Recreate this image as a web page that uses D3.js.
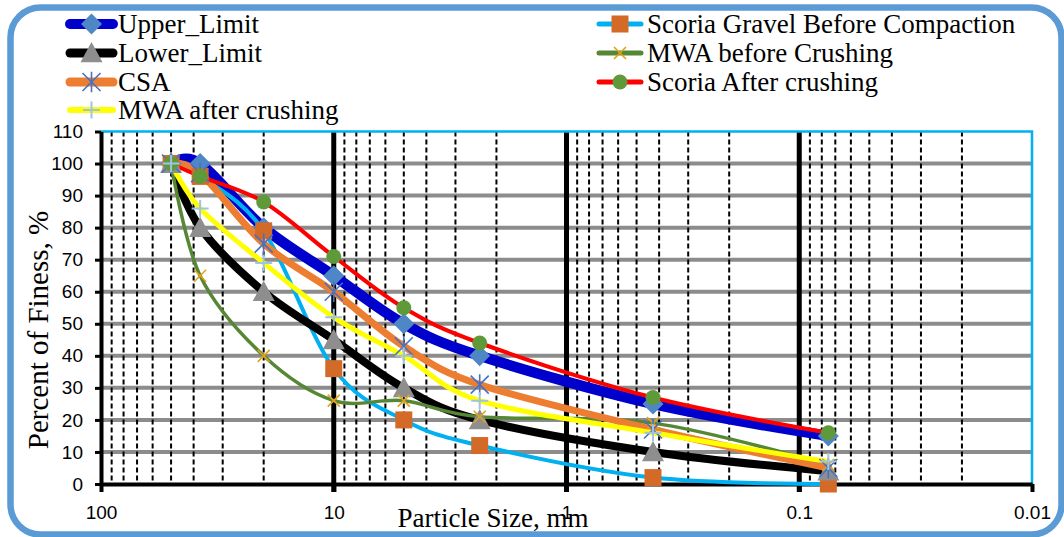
<!DOCTYPE html>
<html>
<head>
<meta charset="utf-8">
<script src="https://cdn.jsdelivr.net/npm/d3@7"></script>
<style>
  html, body { margin: 0; padding: 0; background: #ffffff; }
  svg { display: block; }
</style>
</head>
<body>
<svg id="chart" width="1064" height="537"></svg>
<script>
// Sieve sizes (mm) and percent passing for each gradation curve
const sieveSizes = [50, 37.5, 20, 10, 5, 2.36, 0.425, 0.075];
const upperLimit = [100, 100, 80, 65, 50, 40, 25, 15];
const lowerLimit = [100, 80, 60, 45, 30, 20, 10, 4];
const csa = [100, 97, 75, 60, 43, 31, 17, 5];
const mwaAfterCrushing = [100, 86, 69, 52, 40, 26, 16, 7];
const scoriaGravelBeforeCompaction = [100, 96, 79, 36, 20, 12, 2, 0];
const mwaBeforeCrushing = [100, 65, 40, 26, 26, 21, 19, 6];
const scoriaAfterCrushing = [100, 96, 88, 71, 55, 44, 27, 16];

const seriesNames = ["Upper_Limit", "Scoria Gravel Before Compaction", "Lower_Limit",
  "MWA before Crushing", "CSA", "Scoria After crushing", "MWA after crushing"];

const yTickValues = [0, 10, 20, 30, 40, 50, 60, 70, 80, 90, 100, 110];
const xTickValues = [100, 10, 1, 0.1, 0.01];
const xTickLabels = ["100", "10", "1", "0.1", "0.01"];

// ---- styles ----
const styles = {
  "Upper_Limit": { color: "#0000CC", width: 10.5, marker: "diamond", fill: "#4F86C6", legendWidth: 10 },
  "Scoria Gravel Before Compaction": { color: "#00B0F0", width: 4, marker: "square", fill: "#D46A27", legendWidth: 5 },
  "Lower_Limit": { color: "#000000", width: 8, marker: "triangle", fill: "#8E8E8E", legendWidth: 9 },
  "MWA before Crushing": { color: "#568735", width: 3.5, marker: "x", fill: "#E3A21A", legendWidth: 5 },
  "CSA": { color: "#ED7D31", width: 7, marker: "star", fill: "#4472C4", legendWidth: 9 },
  "Scoria After crushing": { color: "#FF0000", width: 4, marker: "circle", fill: "#5E9A3A", legendWidth: 5 },
  "MWA after crushing": { color: "#FFFF00", width: 5, marker: "plus", fill: "#9DC3E6", legendWidth: 6 }
};

const seriesValues = {
  "Upper_Limit": upperLimit,
  "Scoria Gravel Before Compaction": scoriaGravelBeforeCompaction,
  "Lower_Limit": lowerLimit,
  "MWA before Crushing": mwaBeforeCrushing,
  "CSA": csa,
  "Scoria After crushing": scoriaAfterCrushing,
  "MWA after crushing": mwaAfterCrushing
};

const svg = d3.select("#chart");
const plot = { left: 101, right: 1032, top: 131.5, bottom: 484 };

const x = d3.scaleLog().domain([100, 0.01]).range([plot.left, plot.right]);
const y = d3.scaleLinear().domain([0, 110]).range([plot.bottom, plot.top]);

// outer rounded frame
svg.append("rect")
  .attr("x", 10.5).attr("y", 7.5)
  .attr("width", 1051).attr("height", 527)
  .attr("rx", 30).attr("ry", 30)
  .attr("fill", "#ffffff")
  .attr("stroke", "#5B9BD5").attr("stroke-width", 6.5);

const grid = svg.append("g");

// horizontal gridlines
grid.selectAll("line.h")
  .data(yTickValues.filter(v => v > 0 && v < 110))
  .join("line")
  .attr("x1", plot.left).attr("x2", plot.right)
  .attr("y1", d => y(d)).attr("y2", d => y(d))
  .attr("stroke", "#8C8C8C").attr("stroke-width", 4);

// minor (dashed) and major (solid) vertical gridlines
const minorVals = [];
[10, 1, 0.1, 0.01].forEach(dec => {
  for (let k = 2; k <= 9; k++) minorVals.push(dec * k);
});
grid.selectAll("line.minor")
  .data(minorVals)
  .join("line")
  .attr("x1", d => x(d)).attr("x2", d => x(d))
  .attr("y1", plot.top).attr("y2", plot.bottom)
  .attr("stroke", "#000").attr("stroke-width", 2)
  .attr("stroke-dasharray", "5,3");

grid.selectAll("line.major")
  .data([10, 1, 0.1])
  .join("line")
  .attr("x1", d => x(d)).attr("x2", d => x(d))
  .attr("y1", plot.top).attr("y2", plot.bottom + 8)
  .attr("stroke", "#000").attr("stroke-width", 5);

// plot border top/right
svg.append("path")
  .attr("d", `M${plot.left},${plot.top}H${plot.right}V${plot.bottom}`)
  .attr("fill", "none").attr("stroke", "#00B0F0").attr("stroke-width", 2.5);

// axes
const yAxis = d3.axisLeft(y).tickValues(yTickValues).tickSize(6).tickSizeOuter(0).tickPadding(12);
const gy = svg.append("g").attr("transform", `translate(${plot.left},0)`).call(yAxis);
gy.select(".domain").attr("stroke", "#000").attr("stroke-width", 4);
gy.selectAll(".tick line").attr("stroke", "#000").attr("stroke-width", 3);
gy.selectAll(".tick text")
  .attr("font-family", "'Liberation Sans', Arial, sans-serif")
  .attr("font-size", 19).attr("fill", "#000");

const xAxis = d3.axisBottom(x).tickValues(xTickValues)
  .tickFormat((d, i) => xTickLabels[i]).tickSize(8).tickSizeOuter(0).tickPadding(14);
const gx = svg.append("g").attr("transform", `translate(0,${plot.bottom})`).call(xAxis);
gx.select(".domain").attr("stroke", "#000").attr("stroke-width", 4);
gx.selectAll(".tick line").attr("stroke", "#000").attr("stroke-width", 4);
gx.selectAll(".tick text")
  .attr("font-family", "'Liberation Sans', Arial, sans-serif")
  .attr("font-size", 19).attr("fill", "#000");

// axis titles
svg.append("text")
  .attr("x", 493).attr("y", 527)
  .attr("text-anchor", "middle")
  .attr("font-family", "'Liberation Serif', 'Times New Roman', serif")
  .attr("font-size", 27)
  .text("Particle Size, mm");

svg.append("text")
  .attr("transform", "translate(48,330) rotate(-90)")
  .attr("text-anchor", "middle")
  .attr("font-family", "'Liberation Serif', 'Times New Roman', serif")
  .attr("font-size", 29)
  .text("Percent of Finess, %");

// marker drawing
function drawMarker(g, type, fill, cx, cy) {
  if (type === "diamond") {
    const r = 10.5;
    g.append("path").attr("d", `M${cx},${cy - r}L${cx + r},${cy}L${cx},${cy + r}L${cx - r},${cy}Z`).attr("fill", fill);
  } else if (type === "square") {
    const r = 8.5;
    g.append("rect").attr("x", cx - r).attr("y", cy - r).attr("width", 2 * r).attr("height", 2 * r).attr("fill", fill);
  } else if (type === "triangle") {
    const r = 11;
    g.append("path").attr("d", `M${cx},${cy - r}L${cx + r},${cy + r * 0.85}L${cx - r},${cy + r * 0.85}Z`).attr("fill", fill);
  } else if (type === "circle") {
    g.append("circle").attr("cx", cx).attr("cy", cy).attr("r", 7.5).attr("fill", fill);
  } else if (type === "x") {
    const r = 6;
    g.append("path").attr("d", `M${cx - r},${cy - r}L${cx + r},${cy + r}M${cx - r},${cy + r}L${cx + r},${cy - r}`)
      .attr("stroke", fill).attr("stroke-width", 1.6).attr("fill", "none");
  } else if (type === "star") {
    const r = 9;
    g.append("path").attr("d", `M${cx - r},${cy - r}L${cx + r},${cy + r}M${cx - r},${cy + r}L${cx + r},${cy - r}M${cx},${cy - r * 1.15}L${cx},${cy + r * 1.15}`)
      .attr("stroke", fill).attr("stroke-width", 1.6).attr("fill", "none");
  } else if (type === "plus") {
    const r = 8.5;
    g.append("path").attr("d", `M${cx - r},${cy}L${cx + r},${cy}M${cx},${cy - r}L${cx},${cy + r}`)
      .attr("stroke", fill).attr("stroke-width", 2).attr("fill", "none");
  }
}

const line = d3.line()
  .x(d => x(d.size))
  .y(d => y(d.value))
  .curve(d3.curveCatmullRom.alpha(0));

const seriesData = seriesNames.map(name => ({
  name,
  points: sieveSizes.map((s, i) => ({ size: s, value: seriesValues[name][i] }))
}));

// lines first, then markers
const linesG = svg.append("g");
seriesData.forEach(sd => {
  const st = styles[sd.name];
  linesG.append("path")
    .datum(sd.points)
    .attr("d", line)
    .attr("fill", "none")
    .attr("stroke", st.color)
    .attr("stroke-width", st.width)
    .attr("stroke-linejoin", "round")
    .attr("stroke-linecap", "round");
});
const markersG = svg.append("g");
seriesData.forEach(sd => {
  const st = styles[sd.name];
  sd.points.forEach(p => drawMarker(markersG, st.marker, st.fill, x(p.size), y(p.value)));
});

// legend
const legendLeft = ["Upper_Limit", "Lower_Limit", "CSA", "MWA after crushing"];
const legendRight = ["Scoria Gravel Before Compaction", "MWA before Crushing", "Scoria After crushing"];
const legendBaselines = [33, 62, 91, 119];

function drawLegendColumn(names, x0, x1, tx) {
  const g = svg.append("g");
  names.forEach((name, i) => {
    const st = styles[name];
    const cy = legendBaselines[i] - 9;
    g.append("line")
      .attr("x1", x0).attr("x2", x1).attr("y1", cy).attr("y2", cy)
      .attr("stroke", st.color).attr("stroke-width", st.legendWidth)
      .attr("stroke-linecap", "round");
    drawMarker(g, st.marker, st.fill, (x0 + x1) / 2, cy);
    g.append("text")
      .attr("x", tx).attr("y", legendBaselines[i])
      .attr("font-family", "'Liberation Serif', 'Times New Roman', serif")
      .attr("font-size", 27)
      .text(name);
  });
}
drawLegendColumn(legendLeft, 70, 113, 118);
drawLegendColumn(legendRight, 599, 641, 647);
</script>
</body>
</html>
